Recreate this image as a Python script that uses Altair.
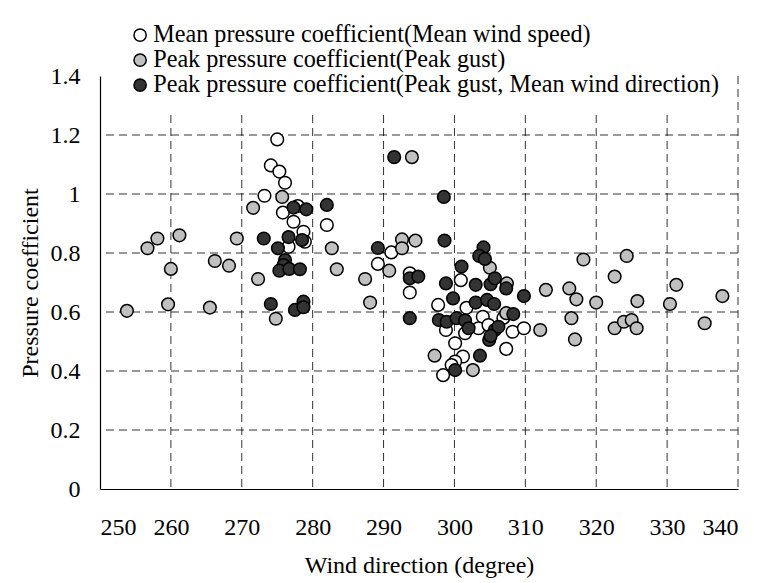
import altair as alt
import pandas as pd

# Wind direction (degree) and pressure coefficient for each series
mean_dir = [275.0, 274.1, 275.3, 276.1, 273.2, 275.8, 277.3, 277.9, 278.7, 278.9,
            276.6, 282.0, 289.2, 291.1, 293.7, 293.7, 297.7, 300.9, 301.7, 304.0,
            306.9, 298.8, 300.1, 301.5, 303.4, 304.8, 308.2, 309.8, 307.3, 301.2,
            300.1, 298.4, 299.6]
mean_cp = [1.185, 1.097, 1.076, 1.038, 0.994, 0.937, 0.906, 0.959, 0.872, 0.838,
           0.821, 0.895, 0.763, 0.802, 0.731, 0.666, 0.624, 0.708, 0.614, 0.584,
           0.580, 0.539, 0.494, 0.528, 0.545, 0.556, 0.533, 0.545, 0.475, 0.449,
           0.432, 0.386, 0.420]

gust_dir = [253.8, 256.7, 258.1, 261.2, 260.0, 259.6, 265.5, 266.2, 268.2, 269.3,
            271.6, 272.3, 275.7, 274.8, 282.7, 283.4, 287.4, 288.1, 290.8, 292.6,
            292.6, 294.5, 305.0, 307.4, 307.3, 312.9, 312.1, 297.2, 302.6, 318.2,
            324.3, 322.6, 331.3, 337.8, 316.2, 317.2, 320.0, 325.8, 330.4, 316.5,
            317.0, 322.6, 323.9, 325.0, 325.7, 335.3, 294.0]
gust_cp = [0.604, 0.816, 0.849, 0.860, 0.746, 0.626, 0.615, 0.773, 0.757, 0.849,
           0.953, 0.712, 0.990, 0.577, 0.816, 0.745, 0.712, 0.632, 0.740, 0.846,
           0.816, 0.842, 0.750, 0.697, 0.596, 0.675, 0.539, 0.452, 0.403, 0.778,
           0.790, 0.720, 0.692, 0.654, 0.680, 0.643, 0.632, 0.637, 0.627, 0.579,
           0.507, 0.545, 0.567, 0.573, 0.545, 0.562, 1.125]

gust_mean_dir = [273.1, 275.1, 276.6, 278.5, 277.3, 279.1, 276.1, 275.9, 275.3, 276.7,
                 278.2, 274.1, 277.5, 278.7, 278.7, 282.0, 289.2, 293.7, 294.9, 293.7,
                 298.6, 304.1, 303.5, 304.3, 301.0, 298.8, 303.0, 305.1, 305.7, 307.3,
                 309.8, 299.8, 303.0, 304.6, 305.6, 308.3, 297.8, 298.9, 300.3, 301.5,
                 302.0, 305.7, 306.2, 304.9, 305.1, 303.6, 300.1, 291.5, 298.5]
gust_mean_cp = [0.849, 0.816, 0.854, 0.844, 0.954, 0.948, 0.776, 0.759, 0.740, 0.746,
                0.745, 0.627, 0.607, 0.635, 0.616, 0.963, 0.817, 0.714, 0.720, 0.579,
                0.842, 0.819, 0.790, 0.780, 0.754, 0.697, 0.692, 0.694, 0.714, 0.680,
                0.654, 0.646, 0.632, 0.641, 0.627, 0.593, 0.573, 0.567, 0.579, 0.571,
                0.545, 0.539, 0.550, 0.505, 0.519, 0.452, 0.403, 1.125, 0.990]

series_names = [
    "Mean pressure coefficient(Mean wind speed)",
    "Peak pressure coefficient(Peak gust)",
    "Peak pressure coefficient(Peak gust, Mean wind direction)",
]
series_fills = ["#ffffff", "#c0c0c0", "#333333"]

x_ticks = [250, 260, 270, 280, 290, 300, 310, 320, 330, 340]
y_ticks = [0, 0.2, 0.4, 0.6, 0.8, 1.0, 1.2, 1.4]

frames = []
for name, d, c in zip(series_names,
                      [mean_dir, gust_dir, gust_mean_dir],
                      [mean_cp, gust_cp, gust_mean_cp]):
    frames.append(pd.DataFrame({"direction": d, "cp": c, "series": name}))
df = pd.concat(frames, ignore_index=True)

FONT = "Liberation Serif"
x_scale = alt.Scale(domain=[250, 340], nice=False, zero=False)
y_scale = alt.Scale(domain=[0, 1.4], nice=False)
x_axis = alt.Axis(values=x_ticks, title="Wind direction (degree)",
                  labelPadding=26, titlePadding=14)
y_axis = alt.Axis(values=y_ticks, format="~g", title="Pressure coefficient",
                  labelPadding=20, titlePadding=8)
dash = dict(strokeDash=[8, 5], color="black", strokeWidth=1, opacity=0.8)

# dashed grid drawn as rules at the tick positions
v_grid = alt.Chart(pd.DataFrame({"gx": x_ticks[1:]})).mark_rule(**dash).encode(
    x=alt.X("gx:Q", scale=x_scale, axis=x_axis)
)
h_grid = alt.Chart(pd.DataFrame({"gy": y_ticks[1:-1]})).mark_rule(**dash).encode(
    y=alt.Y("gy:Q", scale=y_scale, axis=y_axis)
)

points = alt.Chart(df).mark_point(
    shape="circle", filled=True, size=160, stroke="black", strokeWidth=1.5, opacity=1
).encode(
    x=alt.X("direction:Q", scale=x_scale, axis=x_axis),
    y=alt.Y("cp:Q", scale=y_scale, axis=y_axis),
    fill=alt.Fill("series:N",
                  scale=alt.Scale(domain=series_names, range=series_fills),
                  legend=alt.Legend(
                      title=None, orient="none", legendX=16, legendY=-65,
                      direction="vertical", fillColor="white",
                      padding=12, zindex=5,
                      symbolType="circle", symbolSize=150,
                      symbolStrokeColor="black", symbolStrokeWidth=1.5,
                      labelFont=FONT, labelFontSize=24.2, labelColor="black",
                      labelLimit=0, labelOffset=1, rowPadding=0)),
)

chart = alt.layer(v_grid, h_grid, points).properties(
    width=638, height=413,
    background="white",
    autosize=alt.AutoSizeParams(type="none"),
    padding={"left": 100, "top": 76, "right": 25, "bottom": 94},
).configure_view(
    stroke=None
).configure_axis(
    labelFont=FONT, titleFont=FONT, labelFontSize=24, titleFontSize=24,
    labelColor="black", titleColor="black", titleFontWeight="normal",
    domainColor="black", domainWidth=1.2, ticks=False, grid=False,
)

chart.save("out.html", embed_options={"renderer": "svg", "actions": False})
